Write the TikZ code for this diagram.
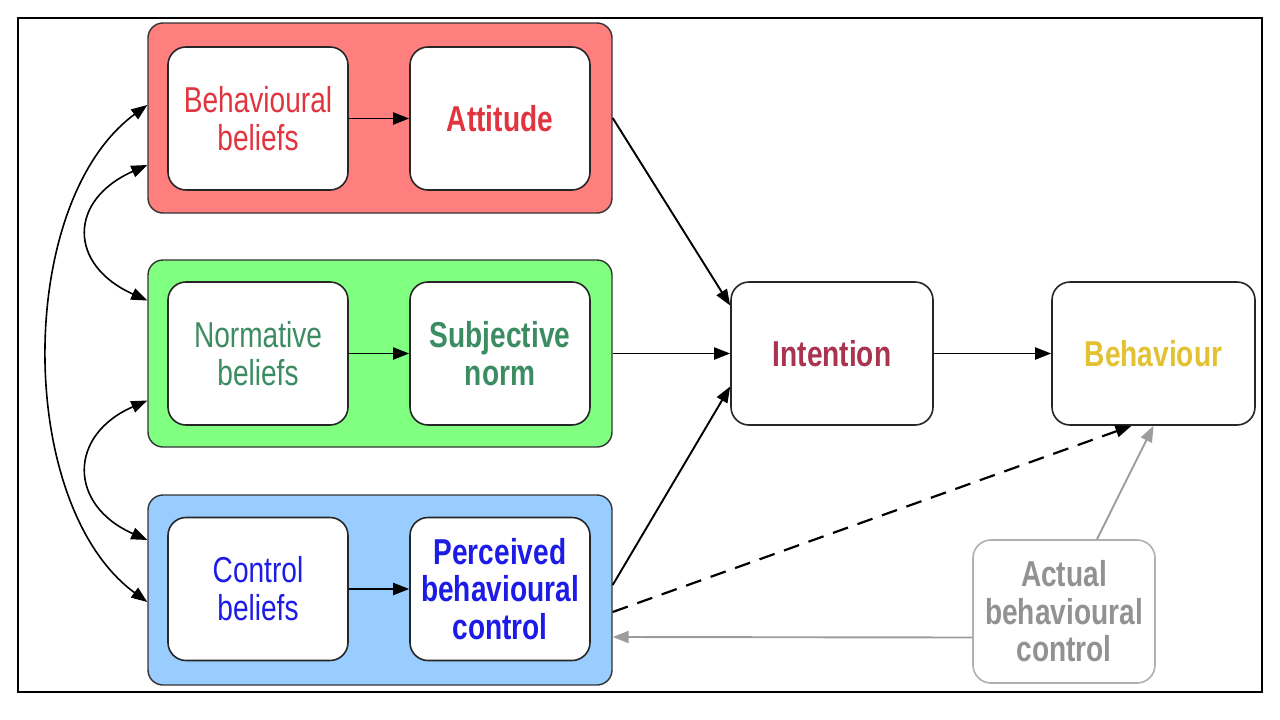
\documentclass[tikz,border=0pt]{standalone}
\usepackage{fontspec}
\setmainfont{Liberation Sans}[FakeStretch=0.78]
\usetikzlibrary{arrows.meta}
\definecolor{grpred}{HTML}{FF7F7F}
\definecolor{grpgreen}{HTML}{80FF80}
\definecolor{grpblue}{HTML}{99CCFF}
\definecolor{txtred}{HTML}{E0353F}
\definecolor{txtgreen}{HTML}{3C8C62}
\definecolor{txtblue}{HTML}{1C1CE6}
\definecolor{txtint}{HTML}{A83450}
\definecolor{txtbeh}{HTML}{E2C232}
\definecolor{txtgray}{HTML}{929292}
\definecolor{lngray}{HTML}{9C9C9C}
\begin{document}
\begin{tikzpicture}[x=1pt,y=-1pt,
  every node/.style={font=\fontsize{36}{38}\selectfont, align=center},
  grp/.style={draw=black!80, line width=1.4pt, rounded corners=15pt, minimum width=464pt},
  inbox/.style={draw=black!85, fill=white, line width=1.6pt, rounded corners=18pt, minimum width=180pt, minimum height=143pt, inner sep=0pt},
  bigbox/.style={inbox, minimum width=202pt},
  arr/.style={-{Triangle[length=16pt,width=12pt]}, line width=1.9pt, black},
  darr/.style={{Triangle[length=16pt,width=12pt]}-{Triangle[length=16pt,width=12pt]}, line width=1.6pt, black},
  garr/.style={-{Triangle[length=16pt,width=12pt]}, line width=1.9pt, lngray}]
\useasboundingbox (0,0) rectangle (1280,720);
\fill[white] (0,0) rectangle (1280,720);
\draw[line width=2pt, black] (18,18) rectangle (1262,692);
% groups
\node[grp, fill=grpred, minimum height=190pt] (red) at (380,118) {};
\node[grp, fill=grpgreen, minimum height=187pt] (green) at (380,353.5) {};
\node[grp, fill=grpblue, minimum height=190pt] (blue) at (380,590) {};
% inner boxes
\node[inbox, text=txtred] (bb) at (258,118.5) {Behavioural\\beliefs};
\node[inbox, text=txtred, font=\fontsize{36}{38}\selectfont\bfseries] (att) at (500,118.5) {Attitude};
\node[inbox, text=txtgreen] (nb) at (258,353.5) {Normative\\beliefs};
\node[inbox, text=txtgreen, font=\fontsize{36}{38}\selectfont\bfseries] (sn) at (500,353.5) {Subjective\\norm};
\node[inbox, text=txtblue] (cb) at (258,589) {Control\\beliefs};
\node[inbox, text=txtblue, font=\fontsize{36}{37.5}\selectfont\bfseries] (pbc) at (500,589) {Perceived\\behavioural\\control};
\node[bigbox, text=txtint, font=\fontsize{36}{38}\selectfont\bfseries] (int) at (832,353.5) {Intention};
\node[bigbox, minimum width=203pt, text=txtbeh, font=\fontsize{36}{38}\selectfont\bfseries] (beh) at (1153.5,353.5) {Behaviour};
\node[inbox, draw=lngray!80, minimum width=182pt, text=txtgray, font=\fontsize{36}{37.5}\selectfont\bfseries] (act) at (1064,611.5) {Actual\\behavioural\\control};
% inner arrows
\draw[arr] (bb) -- (att);
\draw[arr] (nb) -- (sn);
\draw[arr] (cb) -- (pbc);
% to intention
\draw[arr] (red.east) -- ([yshift=48pt]int.west);
\draw[arr] (green.east) -- (int.west);
\draw[arr] ([yshift=5pt]blue.east) -- ([yshift=-33pt]int.west);
\draw[arr] (int) -- (beh);
% dashed
\draw[arr, line width=2.2pt, dash pattern=on 16pt off 10pt] ([yshift=-22pt]blue.east) -- ([xshift=-22pt]beh.south);
% gray
\draw[garr] ([xshift=33pt]act.north) -- (beh.south);
\draw[garr] ([yshift=-26pt]act.west) -- ([yshift=-47pt]blue.east);
% left curved double arrows
\draw[darr] ([yshift=13pt]red.west) .. controls (15,202) and (15,505) .. ([yshift=-12pt]blue.west);
\draw[darr] ([yshift=-47pt]red.west) .. controls (68,200) and (68,265) .. ([yshift=53pt]green.west);
\draw[darr] ([yshift=-47pt]green.west) .. controls (68,435) and (68,505) .. ([yshift=50pt]blue.west);
\end{tikzpicture}
\end{document}
